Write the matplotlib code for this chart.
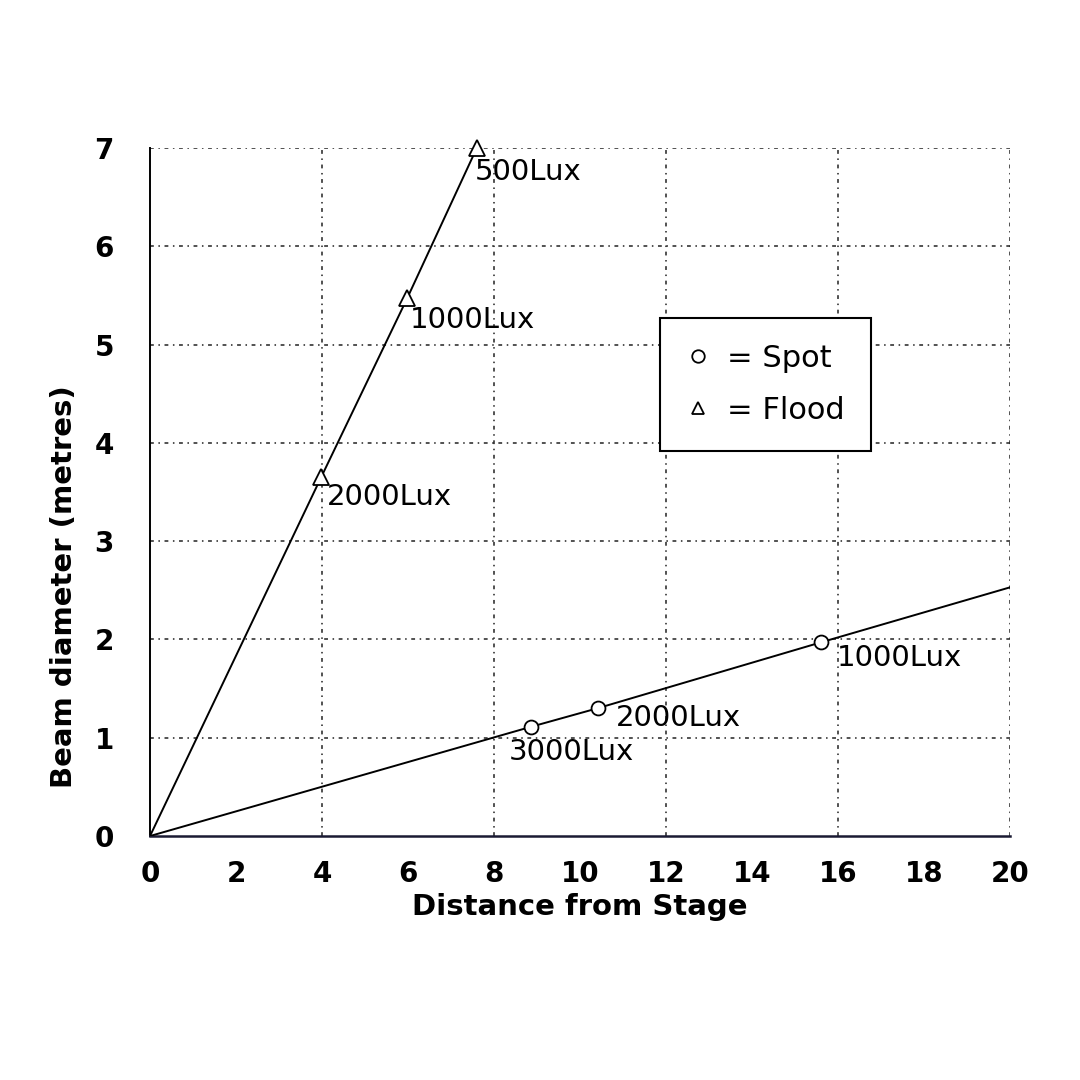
import matplotlib
matplotlib.use('Agg')
import matplotlib.pyplot as plt
from matplotlib.lines import Line2D

# data
flood_dist = [3.98, 5.98, 7.6]
flood_diam = [3.65, 5.47, 7.0]
flood_lux = ['2000Lux', '1000Lux', '500Lux']

spot_dist = [8.85, 10.41, 15.6]
spot_diam = [1.11, 1.30, 1.97]
spot_lux = ['3000Lux', '2000Lux', '1000Lux']

spot_end = (20, 2.53)   # spot line carries on to the edge

xticks = list(range(0, 21, 2))
yticks = list(range(0, 8))

# label offsets in pixels (dx, dy)
flood_off = [(6, -20), (3, -22), (-2, -24)]
spot_off = [(-22, -25), (18, -10), (16, -16)]

plt.rcParams['font.family'] = ['DejaVu Sans']

fig = plt.figure(figsize=(10.8, 10.8), dpi=100)
ax = fig.add_axes([0.1389, 0.2259, 0.7963, 0.6371])

# grid (dotted / dash-dot look of the scan)
gs = dict(color='#222222', lw=1.1, ls=(0, (2.5, 3, 1, 3)), zorder=1)
for y in yticks[1:]:
    ax.axhline(y, **gs)
for x in [4, 8, 12, 16, 20]:
    ax.axvline(x, **gs)

# lines through the origin
ax.plot([0] + flood_dist, [0] + flood_diam, color='black', lw=1.4, zorder=3)
ax.plot([0] + spot_dist + [spot_end[0]], [0] + spot_diam + [spot_end[1]],
        color='black', lw=1.4, zorder=3)

ax.plot(flood_dist, flood_diam, ls='none', marker='^', ms=11, mfc='white',
        mec='black', mew=1.3, zorder=4, clip_on=False)
ax.plot(spot_dist, spot_diam, ls='none', marker='o', ms=10, mfc='white',
        mec='black', mew=1.3, zorder=4, clip_on=False)

for x, y, t, o in zip(flood_dist, flood_diam, flood_lux, flood_off):
    ax.annotate(t, (x, y), xytext=o, textcoords='offset pixels',
                ha='left', va='center', fontsize=21, zorder=5)
for x, y, t, o in zip(spot_dist, spot_diam, spot_lux, spot_off):
    ax.annotate(t, (x, y), xytext=o, textcoords='offset pixels',
                ha='left', va='center', fontsize=21, zorder=5)

ax.set_xlim(0, 20)
ax.set_ylim(0, 7)
ax.set_xticks(xticks)
ax.set_yticks(yticks)
ax.tick_params(length=0, labelsize=20)
ax.tick_params(axis='x', pad=17)
ax.tick_params(axis='y', pad=26)
for lab in ax.get_xticklabels() + ax.get_yticklabels():
    lab.set_fontweight('bold')

ax.spines['top'].set_visible(False)
ax.spines['right'].set_visible(False)
ax.spines['left'].set_linewidth(1.4)
ax.spines['bottom'].set_linewidth(1.8)
ax.spines['bottom'].set_color('#1a1a33')

ax.set_xlabel('Distance from Stage', fontsize=21, fontweight='bold')
ax.set_ylabel('Beam diameter (metres)', fontsize=21, fontweight='bold')
ax.xaxis.set_label_coords(0.5, -0.083)
ax.yaxis.set_label_coords(-0.084, 0.363)

handles = [Line2D([], [], ls='none', marker='o', ms=9, mfc='white', mec='black', mew=1.3),
           Line2D([], [], ls='none', marker='^', ms=9, mfc='white', mec='black', mew=1.3)]
leg = ax.legend(handles, ['= Spot', '= Flood'], loc='upper left',
                bbox_to_anchor=(0.593, 0.753), fancybox=False, framealpha=1,
                edgecolor='black', fontsize=22, handlelength=0.8,
                handletextpad=0.55, labelspacing=0.75, borderpad=0.85,
                borderaxespad=0)
leg.get_frame().set_linewidth(1.5)
leg.set_zorder(6)

fig.savefig('out.png', dpi=100, facecolor='white')
